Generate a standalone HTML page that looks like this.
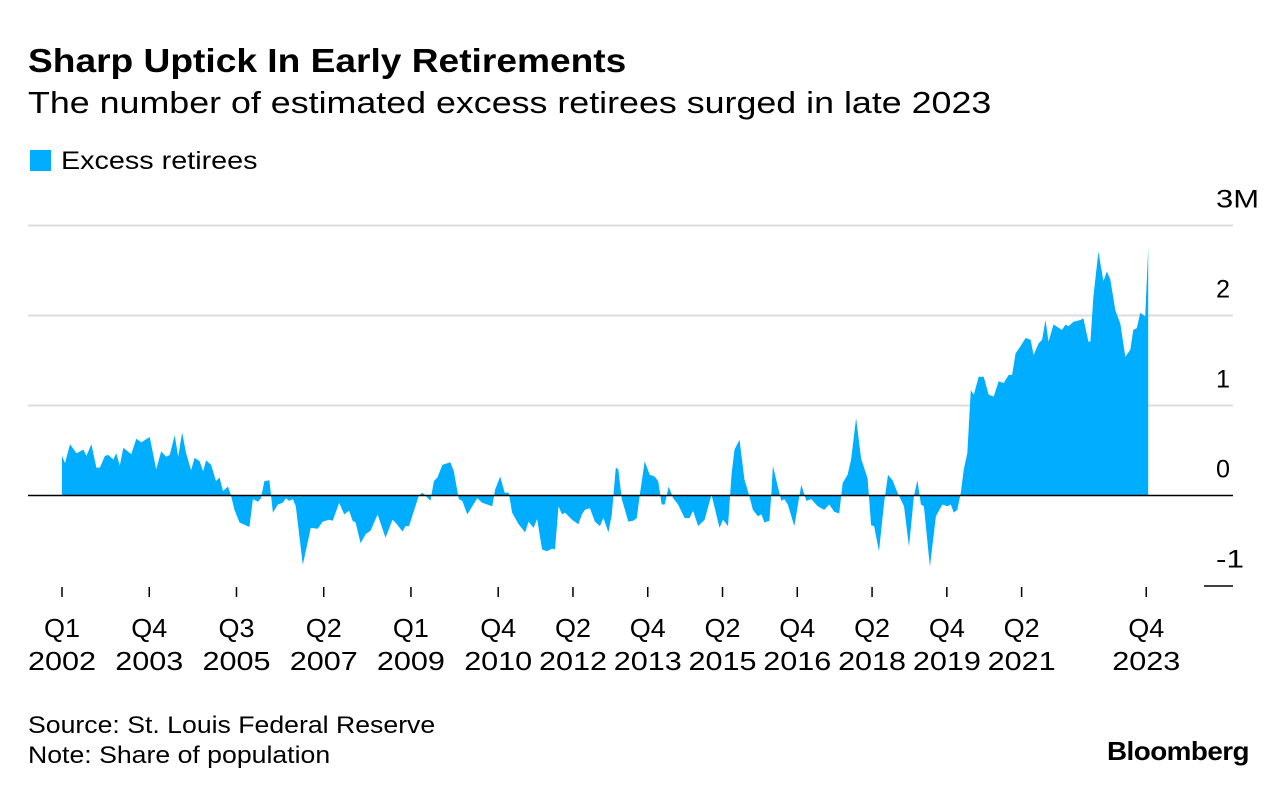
<!DOCTYPE html>
<html><head><meta charset="utf-8"><style>
body{margin:0;background:#fff;font-family:"Liberation Sans",sans-serif;color:#000}
#wrap{position:relative;width:1286px;height:796px;overflow:hidden}
.t{position:absolute;white-space:nowrap;transform-origin:0 0}
</style></head><body><div id="wrap">
<div class="t" style="left:28px;top:42px;font-size:33px;font-weight:bold;transform:scaleX(1.125)">Sharp Uptick In Early Retirements</div>
<div class="t" style="left:28px;top:85px;font-size:31px;transform:scaleX(1.155)">The number of estimated excess retirees surged in late 2023</div>
<div class="t" style="left:30px;top:147px;font-size:25px"><span style="display:inline-block;width:21px;height:21px;background:#00adff;vertical-align:-2px;margin-right:10px"></span><span style="display:inline-block;transform:scaleX(1.15);transform-origin:0 0">Excess retirees</span></div>
<svg id="chart" width="1286" height="796" style="position:absolute;left:0;top:0"></svg>
<div class="t" style="left:28px;top:712px;font-size:24px;transform:scaleX(1.11)">Source: St. Louis Federal Reserve</div>
<div class="t" style="left:28px;top:742px;font-size:24px;transform:scaleX(1.11)">Note: Share of population</div>
<div class="t" style="left:1107px;top:736px;font-size:26px;font-weight:bold;letter-spacing:-0.5px;transform:scaleX(1.07)">Bloomberg</div>
</div>
<script>
const years=[2002.00,2002.06,2002.16,2002.29,2002.43,2002.49,2002.59,2002.69,2002.76,2002.86,2002.93,2003.03,2003.09,2003.16,2003.23,2003.39,2003.49,2003.59,2003.76,2003.89,2003.99,2004.09,2004.16,2004.26,2004.33,2004.41,2004.49,2004.59,2004.66,2004.76,2004.83,2004.89,2004.99,2005.09,2005.16,2005.23,2005.33,2005.39,2005.46,2005.56,2005.76,2005.83,2005.93,2005.99,2006.06,2006.16,2006.23,2006.33,2006.43,2006.49,2006.56,2006.63,2006.69,2006.83,2006.99,2007.13,2007.23,2007.36,2007.43,2007.56,2007.66,2007.76,2007.83,2007.89,2007.99,2008.09,2008.19,2008.33,2008.49,2008.63,2008.69,2008.83,2008.89,2008.96,
2009.16,2009.23,2009.29,2009.39,2009.46,2009.53,2009.63,2009.79,2009.86,2009.96,2010.03,2010.13,2010.23,2010.33,2010.43,2010.63,2010.69,2010.79,2010.88,2010.96,2011.03,2011.16,2011.29,2011.36,2011.46,2011.53,2011.63,2011.73,2011.83,2011.89,2011.96,2012.03,2012.09,2012.23,2012.36,2012.43,2012.49,2012.59,2012.69,2012.79,2012.86,2012.96,2013.03,2013.11,2013.16,2013.23,2013.36,2013.46,2013.53,2013.59,2013.69,2013.79,2013.89,2013.96,2014.03,2014.09,2014.17,2014.26,2014.36,2014.49,2014.59,2014.66,2014.76,2014.89,2015.03,2015.19,2015.26,2015.36,2015.43,2015.49,2015.59,2015.69,2015.79,2015.86,2015.96,2016.03,2016.09,2016.19,2016.23,2016.26,2016.36,2016.43,2016.49,2016.56,2016.69,2016.83,2016.93,2017.03,
2017.16,2017.29,2017.39,2017.49,2017.59,2017.66,2017.76,2017.83,2017.93,2018.03,2018.16,2018.23,2018.29,2018.39,2018.49,2018.57,2018.66,2018.76,2018.89,2018.99,2019.09,2019.16,2019.23,2019.29,2019.41,2019.53,2019.66,2019.76,2019.83,2019.89,2019.96,2020.03,2020.09,2020.16,2020.23,2020.29,2020.39,2020.49,2020.59,2020.69,2020.79,2020.89,2020.99,2021.06,2021.13,2021.23,2021.33,2021.43,2021.49,2021.59,2021.66,2021.73,2021.79,2021.89,2022.06,2022.13,2022.19,2022.29,2022.43,2022.49,2022.59,2022.63,2022.69,2022.79,2022.89,2022.96,2023.03,2023.13,2023.23,2023.33,2023.43,2023.49,2023.56,2023.63,2023.73,2023.79];
const retirees=[0.44,0.36,0.57,0.47,0.51,0.44,0.57,0.31,0.31,0.44,0.45,0.40,0.47,0.33,0.53,0.46,0.63,0.59,0.65,0.29,0.49,0.43,0.45,0.67,0.43,0.70,0.47,0.28,0.42,0.38,0.27,0.39,0.34,0.16,0.20,0.05,0.10,0.00,-0.16,-0.30,-0.35,-0.04,-0.07,-0.03,0.16,0.17,-0.19,-0.10,-0.08,-0.03,-0.06,-0.04,-0.12,-0.77,-0.36,-0.37,-0.29,-0.27,-0.28,-0.08,-0.21,-0.17,-0.28,-0.30,-0.53,-0.43,-0.39,-0.21,-0.47,-0.27,-0.30,-0.40,-0.34,-0.34,
0,0.03,0,-0.06,0.16,0.20,0.34,0.37,0.27,-0.04,-0.06,-0.21,-0.12,-0.03,-0.08,-0.12,0.07,0.21,0.03,0.03,-0.19,-0.32,-0.41,-0.29,-0.36,-0.26,-0.60,-0.62,-0.59,-0.60,-0.12,-0.21,-0.19,-0.27,-0.32,-0.21,-0.16,-0.14,-0.29,-0.34,-0.25,-0.41,-0.21,0.31,0.29,-0.04,-0.29,-0.28,-0.25,0.01,0.38,0.23,0.21,0.16,-0.10,-0.10,0.10,-0.03,-0.10,-0.25,-0.25,-0.17,-0.34,-0.27,0.01,-0.36,-0.27,-0.34,0.23,0.51,0.62,0.18,-0.01,-0.16,-0.23,-0.21,-0.30,-0.28,0.03,0.33,0.10,-0.06,-0.04,-0.10,-0.34,0.12,-0.06,-0.04,
-0.12,-0.16,-0.10,-0.18,-0.20,0.14,0.23,0.40,0.86,0.41,0.19,-0.33,-0.34,-0.62,-0.09,0.23,0.17,0.03,-0.12,-0.57,-0.01,0.17,-0.10,-0.12,-0.79,-0.23,-0.10,-0.12,-0.10,-0.19,-0.16,0.03,0.29,0.47,1.17,1.12,1.32,1.32,1.12,1.10,1.27,1.25,1.34,1.34,1.58,1.66,1.75,1.73,1.56,1.69,1.73,1.95,1.71,1.90,1.84,1.90,1.88,1.93,1.95,1.97,1.71,1.71,2.21,2.71,2.38,2.49,2.40,2.06,1.91,1.54,1.62,1.84,1.86,2.03,1.99,2.75];
const yTicks=[3,2,1,0,-1];
const yTickLabels=["3M","2","1","0","-1"];
const xTickYears=[2002.0,2003.75,2005.5,2007.25,2009.0,2010.75,2012.25,2013.75,2015.25,2016.75,2018.25,2019.75,2021.25,2023.75];
const xTickTop=["Q1","Q4","Q3","Q2","Q1","Q4","Q2","Q4","Q2","Q4","Q2","Q4","Q2","Q4"];
const xTickBottom=["2002","2003","2005","2007","2009","2010","2012","2013","2015","2016","2018","2019","2021","2023"];

const NS="http://www.w3.org/2000/svg";
const svg=document.getElementById('chart');
const xs=y=>62+(y-2002)*49.85;
const ys=v=>495.5-v*90;
function mk(tag,attrs){const e=document.createElementNS(NS,tag);for(const k in attrs)e.setAttribute(k,attrs[k]);svg.appendChild(e);return e;}
const FONT='Liberation Sans, sans-serif';

yTicks.forEach((v,i)=>{
  if(v>0){const g=mk('line',{x1:28,x2:1233,y1:ys(v),y2:ys(v),stroke:'#dcdcdc','stroke-width':2});
  
  }
  const t=mk('text',{x:1216,y:ys(v)-18,'text-anchor':'start','font-size':25,'font-family':FONT,textLength:yTickLabels[i].length*14+(yTickLabels[i]==='3M'?15:0),lengthAdjust:'spacingAndGlyphs'});
  t.textContent=yTickLabels[i];
  
  
});
const low=mk('line',{x1:1204,x2:1233,y1:586,y2:586,stroke:'#000','stroke-width':1.5});



let d='M'+xs(years[0])+','+ys(0);
years.forEach((y,i)=>{d+=' L'+xs(y).toFixed(1)+','+ys(retirees[i]).toFixed(1);});
d+=' L'+xs(years[years.length-1]).toFixed(1)+','+ys(0)+' Z';
const area=mk('path',{d:d,fill:'#00adff'});



const zero=mk('line',{x1:28,x2:1233,y1:ys(0),y2:ys(0),stroke:'#000','stroke-width':1.5});



xTickYears.forEach((y,i)=>{
  const x=xs(y);
  const tk=mk('line',{x1:x,x2:x,y1:587,y2:597,stroke:'#000','stroke-width':1.5});
  
  
  const a=mk('text',{x:x-18,y:637,'font-size':26,'font-family':FONT,textLength:36,lengthAdjust:'spacingAndGlyphs'});
  a.textContent=xTickTop[i];
  
  
  const b=mk('text',{x:x-34,y:670,'font-size':26,'font-family':FONT,textLength:68,lengthAdjust:'spacingAndGlyphs'});
  b.textContent=xTickBottom[i];
  
  
});
</script></body></html>
